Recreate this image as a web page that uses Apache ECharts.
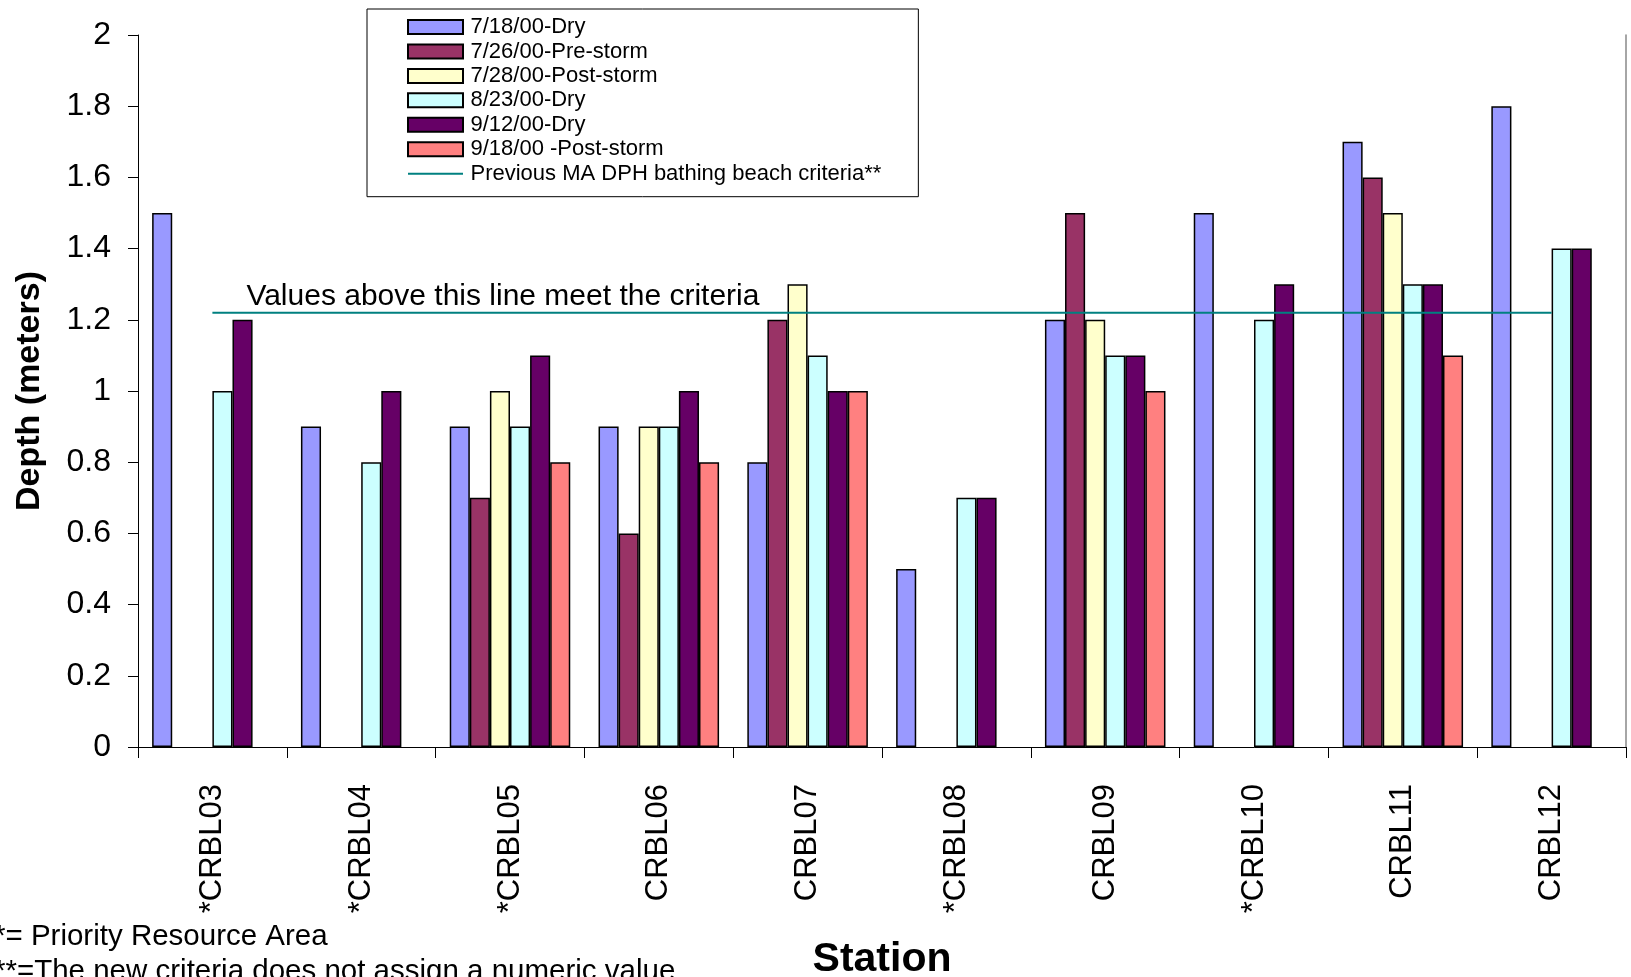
<!DOCTYPE html>
<html>
<head>
<meta charset="utf-8">
<script src="https://cdn.jsdelivr.net/npm/echarts@6/dist/echarts.min.js"></script>
<style>
html,body{margin:0;padding:0;background:#fff;}
#chart{width:1631px;height:977px;}
</style>
</head>
<body>
<div id="chart"></div>
<script>
var categories = ['*CRBL03','*CRBL04','*CRBL05','CRBL06','CRBL07','*CRBL08','CRBL09','*CRBL10','CRBL11','CRBL12'];
var dry0718      = [1.5, 0.9, 0.9, 0.9, 0.8, 0.5, 1.2, 1.5, 1.7, 1.8];
var preStorm0726 = [null, null, 0.7, 0.6, 1.2, null, 1.5, null, 1.6, null];
var postStorm0728= [null, null, 1.0, 0.9, 1.3, null, 1.2, null, 1.5, null];
var dry0823      = [1.0, 0.8, 0.9, 0.9, 1.1, 0.7, 1.1, 1.2, 1.3, 1.4];
var dry0912      = [1.2, 1.0, 1.1, 1.0, 1.0, 0.7, 1.1, 1.3, 1.3, 1.4];
var postStorm0918= [null, null, 0.8, 0.8, 1.0, null, 1.0, null, 1.1, null];
var criteria     = [1.22, 1.22, 1.22, 1.22, 1.22, 1.22, 1.22, 1.22, 1.22, 1.22];
var seriesNames = ['7/18/00-Dry','7/26/00-Pre-storm','7/28/00-Post-storm','8/23/00-Dry','9/12/00-Dry','9/18/00 -Post-storm','Previous MA DPH bathing beach criteria**'];
var yTickLabels = ['0','0.2','0.4','0.6','0.8','1','1.2','1.4','1.6','1.8','2'];

var FONT = "'Liberation Sans', Arial, sans-serif";
var colors = ['#9999FF','#993366','#FFFFCC','#CCFFFF','#660066','#FF8080'];
var barData = [dry0718, preStorm0726, postStorm0728, dry0823, dry0912, postStorm0918];

var chart = echarts.init(document.getElementById('chart'), null, {renderer:'canvas'});

var series = barData.map(function(d, i){
  return {
    name: seriesNames[i], type:'bar', data:d,
    barGap:'0%', barCategoryGap:'19%',
    itemStyle:{color:colors[i], borderColor:'#000', borderWidth:1.5},
    emphasis:{disabled:true}
  };
});
series.push({
  name: seriesNames[6], type:'line', data:criteria,
  symbol:'none', showSymbol:false, z:5,
  lineStyle:{color:'#008080', width:2},
  itemStyle:{color:'#008080'},
  emphasis:{disabled:true}
});

var option = {
  animation:false,
  backgroundColor:'#fff',
  textStyle:{fontFamily:FONT},
  grid:{left:138, top:35, width:1488, height:712, containLabel:false, outerBoundsMode:'none'},
  legend:{
    orient:'vertical', left:367, top:9,
    padding:[7,37,12,40],
    backgroundColor:'#fff', borderColor:'#000', borderWidth:1,
    itemWidth:55, itemHeight:14, itemGap:2.45,
    textStyle:{fontFamily:FONT, fontSize:22, color:'#000', padding:[0,0,0,2.5]},
    data: seriesNames.map(function(n, i){
      return i < 6 ? {name:n, icon:'rect'} : {name:n, itemStyle:{opacity:0}, lineStyle:{color:'#008080', width:2}};
    })
  },
  xAxis:{
    type:'category', data:categories,
    name:'Station', nameLocation:'middle', nameGap:192,
    nameTextStyle:{fontFamily:FONT, fontSize:41, fontWeight:'bold', color:'#000'},
    axisLine:{lineStyle:{color:'#000', width:1}},
    axisTick:{show:true, length:11, lineStyle:{color:'#000'}},
    axisLabel:{rotate:90, margin:37, fontFamily:FONT, fontSize:31, color:'#000'}
  },
  yAxis:[{
    type:'value', min:0, max:2, interval:0.2,
    name:'Depth (meters)', nameLocation:'middle', nameGap:91,
    nameTextStyle:{fontFamily:FONT, fontSize:34, fontWeight:'bold', color:'#000'},
    axisLine:{show:true, lineStyle:{color:'#000', width:1}},
    axisTick:{show:true, length:10, lineStyle:{color:'#000'}},
    splitLine:{show:false},
    axisLabel:{margin:27, fontFamily:FONT, fontSize:32, color:'#000',
      formatter:function(v){ return yTickLabels[Math.round(v/0.2)]; }}
  },{
    type:'value', min:0, max:2, position:'right',
    axisLine:{show:true, lineStyle:{color:'#888', width:1.5}},
    axisTick:{show:false}, axisLabel:{show:false}, splitLine:{show:false}
  }],
  series: series
};
chart.setOption(option);

var p = chart.convertToPixel({xAxisIndex:0, yAxisIndex:0}, [0, criteria[0]]);
chart.setOption({
  graphic:[
    {type:'text', left: p[0] + 34, top: p[1] - 31,
      style:{text:'Values above this line meet the criteria', font:'30px ' + FONT, fill:'#000'}},
    {type:'text', left:-6, top:922,
      style:{text:'*= Priority Resource Area', font:'29.5px ' + FONT, fill:'#000'}},
    {type:'text', left:-6, top:957,
      style:{text:'**=The new criteria does not assign a numeric value', font:'29.5px ' + FONT, fill:'#000'}}
  ]
});
</script>
</body>
</html>
